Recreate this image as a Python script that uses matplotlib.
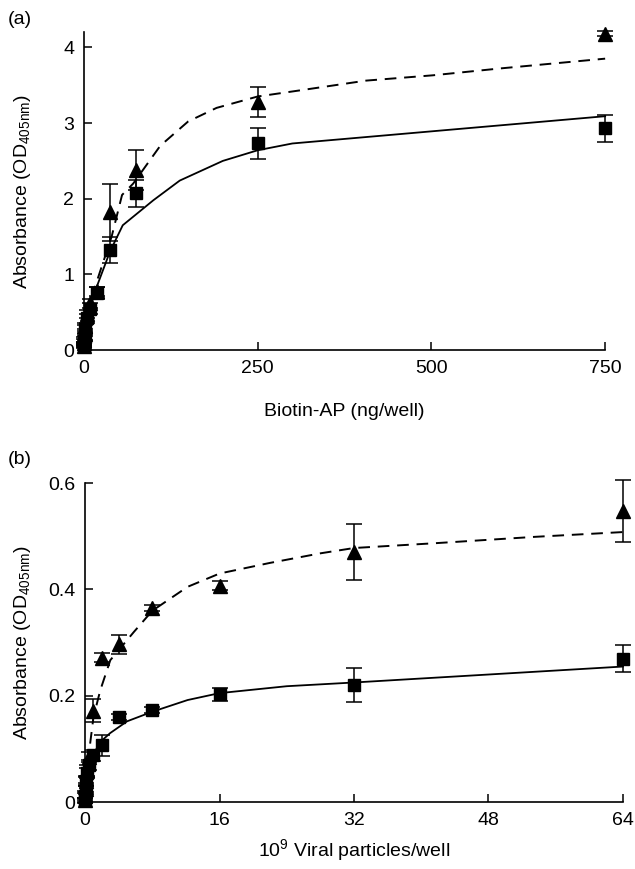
import numpy as np
import matplotlib
matplotlib.use('Agg')
import matplotlib.pyplot as plt

plt.rcParams['font.family'] = ['Liberation Sans', 'DejaVu Sans']
plt.rcParams['mathtext.default'] = 'regular'

# panel (a): Biotin-AP dilution series
dose_a = [750, 250, 75, 37.5, 18.75, 9.375, 4.69, 2.34, 1.17, 0.59, 0.29, 0]
sq_a = [2.93, 2.73, 2.07, 1.32, 0.75, 0.55, 0.42, 0.28, 0.18, 0.12, 0.08, 0.05]
sq_a_err = [0.18, 0.21, 0.18, 0.17, 0.08, 0.07, 0.06, 0.05, 0.04, 0.03, 0.02, 0.02]
tri_a = [4.18, 3.28, 2.38, 1.82, 0.78, 0.62, 0.48, 0.32, 0.22, 0.14, 0.09, 0.06]
tri_a_err = [0.03, 0.2, 0.27, 0.38, 0.06, 0.06, 0.05, 0.04, 0.03, 0.03, 0.02, 0.02]

fit_sq_a_x = [0, 5, 15, 37.5, 56, 100, 138, 200, 250, 300, 750]
fit_sq_a_y = [0.05, 0.4, 0.75, 1.3, 1.65, 1.98, 2.24, 2.5, 2.64, 2.73, 3.09]
fit_tri_a_x = [0, 13, 40, 55, 71, 110, 150, 191, 250, 310, 406, 502, 598, 750]
fit_tri_a_y = [0.2, 0.75, 1.5, 2.05, 2.2, 2.7, 3.02, 3.2, 3.35, 3.43, 3.56, 3.63, 3.72, 3.85]

# panel (b): viral particle dilution series
dose_b = [64, 32, 16, 8, 4, 2, 1, 0.5, 0.25, 0.125, 0.0625, 0.031, 0]
sq_b = [0.27, 0.22, 0.203, 0.173, 0.16, 0.107, 0.088, 0.07, 0.055, 0.04, 0.025, 0.012, 0.003]
sq_b_err = [0.026, 0.032, 0.012, 0.006, 0.006, 0.02, 0.01, 0.01, 0.01, 0.01, 0.01, 0.008, 0.005]
tri_b = [0.548, 0.47, 0.407, 0.365, 0.297, 0.272, 0.172, 0.085, 0.06, 0.04, 0.025, 0.012, 0.004]
tri_b_err = [0.058, 0.053, 0.008, 0.006, 0.018, 0.008, 0.022, 0.01, 0.01, 0.008, 0.006, 0.005, 0.004]

fit_sq_b_x = [0, 0.25, 0.5, 1, 1.8, 3, 5, 8, 12.2, 16, 24, 32, 48, 64]
fit_sq_b_y = [0, 0.05, 0.07, 0.09, 0.113, 0.13, 0.152, 0.17, 0.192, 0.205, 0.218, 0.225, 0.24, 0.255]
fit_tri_b_x = [0.6, 1.0, 1.8, 3.0, 5.8, 8, 12.2, 16, 22, 28, 32, 41.6, 53.5, 64]
fit_tri_b_y = [0.11, 0.16, 0.21, 0.267, 0.32, 0.36, 0.405, 0.43, 0.45, 0.468, 0.478, 0.487, 0.499, 0.508]

fig = plt.figure(figsize=(6.35, 8.69), dpi=100)
ax_a = fig.add_axes([0.132, 0.597, 0.821, 0.366])
ax_b = fig.add_axes([0.134, 0.077, 0.847, 0.367])

FS = 14


def style_axes(ax):
    for s in ['top', 'right']:
        ax.spines[s].set_visible(False)
    for s in ['left', 'bottom']:
        ax.spines[s].set_linewidth(1.2)
    ax.tick_params(direction='in', length=6, width=1.1, labelsize=FS, pad=7)


def draw(ax, x, sq, sq_err, tri, tri_err, fx1, fy1, fx2, fy2, dash):
    ax.plot(fx1, fy1, color='black', lw=1.3, clip_on=False)
    ax.plot(fx2, fy2, color='black', lw=1.4, dashes=dash, clip_on=False)
    ax.errorbar(x, sq, yerr=sq_err, fmt='s', color='black', ms=8,
                capsize=5.5, elinewidth=1.1, capthick=1.1, clip_on=False)
    ax.errorbar(x, tri, yerr=tri_err, fmt='^', color='black', ms=9.5,
                capsize=5.5, elinewidth=1.1, capthick=1.1, clip_on=False)


draw(ax_a, dose_a, sq_a, sq_a_err, tri_a, tri_a_err,
     fit_sq_a_x, fit_sq_a_y, fit_tri_a_x, fit_tri_a_y, (6, 4))
style_axes(ax_a)
ax_a.set_xlim(0, 750)
ax_a.set_ylim(0, 4.2)
ax_a.set_xticks([0, 250, 500, 750])
ax_a.set_yticks([0, 1, 2, 3, 4])
ax_a.set_xlabel('Biotin-AP (ng/well)', fontsize=FS, labelpad=19)
ax_a.set_ylabel('Absorbance (OD$_{405nm}$)', fontsize=FS, labelpad=22)

draw(ax_b, dose_b, sq_b, sq_b_err, tri_b, tri_b_err,
     fit_sq_b_x, fit_sq_b_y, fit_tri_b_x, fit_tri_b_y, (6, 4))
style_axes(ax_b)
ax_b.set_xlim(0, 64)
ax_b.set_ylim(0, 0.6)
ax_b.set_xticks([0, 16, 32, 48, 64])
ax_b.set_yticks([0, 0.2, 0.4, 0.6])
ax_b.set_yticklabels(['0', '0.2', '0.4', '0.6'])
ax_b.set_xlabel('10$^9$ Viral particles/well', fontsize=FS, labelpad=6)
ax_b.set_ylabel('Absorbance (OD$_{405nm}$)', fontsize=FS, labelpad=11)

fig.text(0.012, 0.978, '(a)', fontsize=FS, va='center')
fig.text(0.012, 0.471, '(b)', fontsize=FS, va='center')

fig.savefig('out.png', dpi=100)
